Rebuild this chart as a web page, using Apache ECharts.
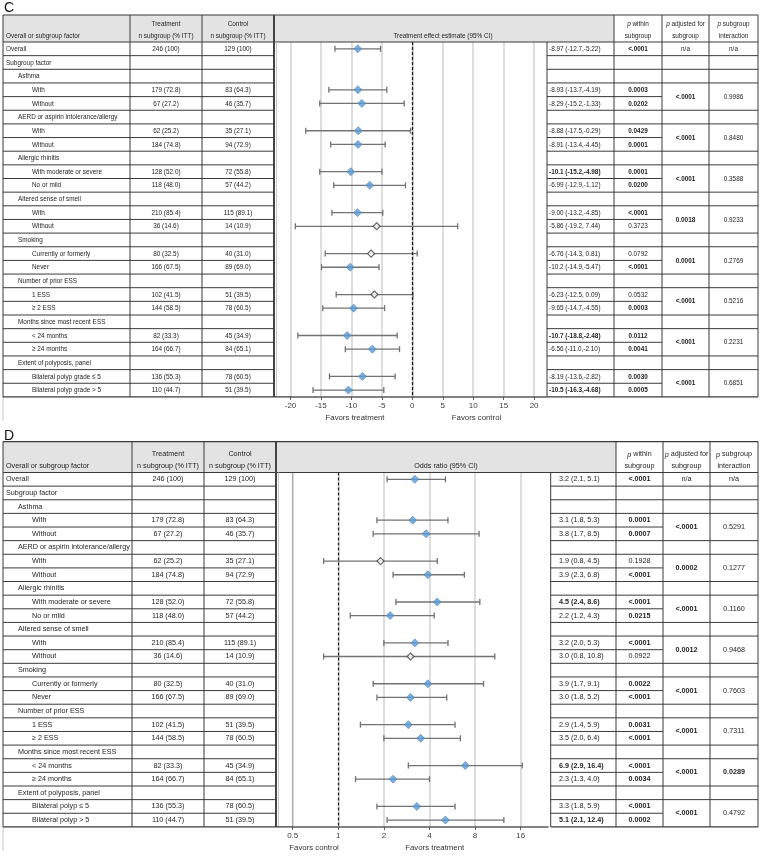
<!DOCTYPE html>
<html><head><meta charset="utf-8">
<script src="https://cdn.jsdelivr.net/npm/echarts@6/dist/echarts.min.js"></script>
<style>html,body{margin:0;padding:0;background:#fff}#c{width:760px;height:856px}</style>
</head><body><div id="c"></div>
<script>
// ---------- shared table columns ----------
const rowLabelsC = ['Overall','Subgroup factor','Asthma','With','Without','AERD or aspirin intolerance/allergy','With','Without','Allergic rhinitis','With moderate or severe','No or mild','Altered sense of smell','With','Without','Smoking','Currently or formerly','Never','Number of prior ESS','1 ESS','≥ 2 ESS','Months since most recent ESS','< 24 months','≥ 24 months','Extent of polyposis, panel','Bilateral polyp grade ≤ 5','Bilateral polyp grade > 5'];
const rowLabelsD = ['Overall','Subgroup factor','Asthma','With','Without','AERD or aspirin intolerance/allergy','With','Without','Allergic rhinitis','With moderate or severe','No or mild','Altered sense of smell','With','Without','Smoking','Currently or formerly','Never','Number of prior ESS','1 ESS','≥ 2 ESS','Months since most recent ESS','< 24 months','≥ 24 months','Extent of polyposis, panel','Bilateral polyp ≤ 5','Bilateral polyp > 5'];
const rowLevels = [0,0,1,2,2,1,2,2,1,2,2,1,2,2,1,2,2,1,2,2,1,2,2,1,2,2];
const treatN = ['246 (100)','','','179 (72.8)','67 (27.2)','','62 (25.2)','184 (74.8)','','128 (52.0)','118 (48.0)','','210 (85.4)','36 (14.6)','','80 (32.5)','166 (67.5)','','102 (41.5)','144 (58.5)','','82 (33.3)','164 (66.7)','','136 (55.3)','110 (44.7)'];
const controlN = ['129 (100)','','','83 (64.3)','46 (35.7)','','35 (27.1)','94 (72.9)','','72 (55.8)','57 (44.2)','','115 (89.1)','14 (10.9)','','40 (31.0)','89 (69.0)','','51 (39.5)','78 (60.5)','','45 (34.9)','84 (65.1)','','78 (60.5)','51 (39.5)'];
const groupStartRows = [0,3,6,9,12,15,18,21,24];
const groupSpans = [1,2,2,2,2,2,2,2,2];

// ---------- Panel C: treatment effect estimate ----------
const cEst  = [-8.97,null,null,-8.93,-8.29,null,-8.88,-8.91,null,-10.1,-6.99,null,-9.00,-5.86,null,-6.76,-10.2,null,-6.23,-9.65,null,-10.7,-6.56,null,-8.19,-10.5];
const cLow  = [-12.7,null,null,-13.7,-15.2,null,-17.5,-13.4,null,-15.2,-12.9,null,-13.2,-19.2,null,-14.3,-14.9,null,-12.5,-14.7,null,-18.8,-11.0,null,-13.6,-16.3];
const cHigh = [-5.22,null,null,-4.19,-1.33,null,-0.29,-4.45,null,-4.98,-1.12,null,-4.85,7.44,null,0.81,-5.47,null,0.09,-4.55,null,-2.48,-2.10,null,-2.82,-4.68];
const cSig  = [1,0,0,1,1,0,1,1,0,1,1,0,1,0,0,0,1,0,0,1,0,1,1,0,1,1];
const cCiText = ['-8.97 (-12.7,-5.22)','','','-8.93 (-13.7,-4.19)','-8.29 (-15.2,-1.33)','','-8.88 (-17.5,-0.29)','-8.91 (-13.4,-4.45)','','-10.1 (-15.2,-4.98)','-6.99 (-12.9,-1.12)','','-9.00 (-13.2,-4.85)','-5.86 (-19.2, 7.44)','','-6.76 (-14.3, 0.81)','-10.2 (-14.9,-5.47)','','-6.23 (-12.5, 0.09)','-9.65 (-14.7,-4.55)','','-10.7 (-18.8,-2.48)','-6.56 (-11.0,-2.10)','','-8.19 (-13.6,-2.82)','-10.5 (-16.3,-4.68)'];
const cCiBold = [0,0,0,0,0,0,0,0,0,1,0,0,0,0,0,0,0,0,0,0,0,1,0,0,0,1];
const cPWithin = ['<.0001','','','0.0003','0.0202','','0.0429','0.0001','','0.0001','0.0200','','<.0001','0.3723','','0.0792','<.0001','','0.0532','0.0003','','0.0112','0.0041','','0.0030','0.0005'];
const cPWithinBold = [1,0,0,1,1,0,1,1,0,1,1,0,1,0,0,0,1,0,0,1,0,1,1,0,1,1];
const cPAdj = ['n/a','<.0001','<.0001','<.0001','0.0018','0.0001','<.0001','<.0001','<.0001'];
const cPAdjBold = [0,1,1,1,1,1,1,1,1];
const cPInt = ['n/a','0.9986','0.8480','0.3588','0.9233','0.2769','0.5216','0.2231','0.6851'];
const cPIntBold = [0,0,0,0,0,0,0,0,0];

// ---------- Panel D: odds ratio ----------
const dEst  = [3.2,null,null,3.1,3.8,null,1.9,3.9,null,4.5,2.2,null,3.2,3.0,null,3.9,3.0,null,2.9,3.5,null,6.9,2.3,null,3.3,5.1];
const dLow  = [2.1,null,null,1.8,1.7,null,0.8,2.3,null,2.4,1.2,null,2.0,0.8,null,1.7,1.8,null,1.4,2.0,null,2.9,1.3,null,1.8,2.1];
const dHigh = [5.1,null,null,5.3,8.5,null,4.5,6.8,null,8.6,4.3,null,5.3,10.8,null,9.1,5.2,null,5.9,6.4,null,16.4,4.0,null,5.9,12.4];
const dSig  = [1,0,0,1,1,0,0,1,0,1,1,0,1,0,0,1,1,0,1,1,0,1,1,0,1,1];
const dCiText = ['3.2 (2.1, 5.1)','','','3.1 (1.8, 5.3)','3.8 (1.7, 8.5)','','1.9 (0.8, 4.5)','3.9 (2.3, 6.8)','','4.5 (2.4, 8.6)','2.2 (1.2, 4.3)','','3.2 (2.0, 5.3)','3.0 (0.8, 10.8)','','3.9 (1.7, 9.1)','3.0 (1.8, 5.2)','','2.9 (1.4, 5.9)','3.5 (2.0, 6.4)','','6.9 (2.9, 16.4)','2.3 (1.3, 4.0)','','3.3 (1.8, 5.9)','5.1 (2.1, 12.4)'];
const dCiBold = [0,0,0,0,0,0,0,0,0,1,0,0,0,0,0,0,0,0,0,0,0,1,0,0,0,1];
const dPWithin = ['<.0001','','','0.0001','0.0007','','0.1928','<.0001','','<.0001','0.0215','','<.0001','0.0922','','0.0022','<.0001','','0.0031','<.0001','','<.0001','0.0034','','<.0001','0.0002'];
const dPWithinBold = [1,0,0,1,1,0,0,1,0,1,1,0,1,0,0,1,1,0,1,1,0,1,1,0,1,1];
const dPAdj = ['n/a','<.0001','0.0002','<.0001','0.0012','<.0001','<.0001','<.0001','<.0001'];
const dPAdjBold = [0,1,1,1,1,1,1,1,1];
const dPInt = ['n/a','0.5291','0.1277','0.1160','0.9468','0.7603','0.7311','0.0289','0.4792'];
const dPIntBold = [0,0,0,0,0,0,0,1,0];

const FONT = '"Liberation Sans", Arial, sans-serif';
const BLUE = '#5b9bd5';

const PC = {letter:'C', letterY:8, headTop:15, top:42, rowH:13.65, x0:3, c1:130, c2:202, c3:274, plotL:290.5, plotR:546.3, ciL:547, pw:614, pa:662, pi:709, xr:758, ciX:549, ciAlign:'left', fs:7.8, sx:0.82, title:'Treatment effect estimate (95% CI)', titleX:443};
const PD = {letter:'D', letterY:436, headTop:441.7, top:472.5, rowH:13.63, x0:3, c1:132, c2:204, c3:276, plotL:292.7, plotR:548, ciL:550.7, pw:616, pa:663, pi:710, xr:758, ciX:559, ciAlign:'left', fs:7.2, sx:1, title:'Odds ratio (95% CI)', titleX:446};

function panelGraphics(P, d) {
  const els = [];
  const N = d.labels.length;
  const ry = i => P.top + i * P.rowH;
  const bottom = ry(N);
  const LC = '#3a3a3a';
  function ln(x1, y1, x2, y2, w, c) {
    els.push({type:'line', silent:true, z:10, shape:{x1:x1, y1:y1, x2:x2, y2:y2}, style:{stroke:c || LC, lineWidth:w || 1}});
  }
  function tx(x, y, t, o) {
    o = o || {};
    if (!t) return;
    const st = {text:t, x:0, y:0, fill:'#1e1e1e', fontSize:o.fs || P.fs, fontFamily:FONT,
      fontWeight:o.bold ? 'bold' : 'normal', align:o.align || 'left', verticalAlign:'middle'};
    if (o.rich) st.rich = o.rich;
    els.push({type:'text', silent:true, z:11, x:x, y:y, scaleX:(o.nosx ? 1 : P.sx), style:st});
  }
  const richP = {i:{fontStyle:'italic', fontSize:P.fs, fontFamily:FONT, fill:'#1e1e1e'}, n:{fontSize:P.fs, fontFamily:FONT, fill:'#1e1e1e'}};
  // panel letter
  els.push({type:'text', silent:true, z:11, x:4, y:P.letterY, style:{text:P.letter, fontSize:14, fontFamily:FONT, fill:'#111', verticalAlign:'middle'}});
  // header background
  els.push({type:'rect', silent:true, z:5, shape:{x:P.x0, y:P.headTop, width:P.pw - P.x0, height:P.top - P.headTop}, style:{fill:'#e3e3e3'}});
  // header texts
  const h1 = P.top - 18, h2 = P.top - 6;
  tx(P.x0 + 3, h2, 'Overall or subgroup factor');
  tx((P.c1 + P.c2) / 2, h1, 'Treatment', {align:'center'});
  tx((P.c1 + P.c2) / 2, h2, 'n subgroup (% ITT)', {align:'center'});
  tx((P.c2 + P.c3) / 2, h1, 'Control', {align:'center'});
  tx((P.c2 + P.c3) / 2, h2, 'n subgroup (% ITT)', {align:'center'});
  tx(P.titleX, h2, P.title, {align:'center'});
  tx((P.pw + P.pa) / 2, h1, '{i|p}{n| within}', {align:'center', rich:richP});
  tx((P.pw + P.pa) / 2, h2, 'subgroup', {align:'center'});
  tx((P.pa + P.pi) / 2, h1, '{i|p}{n| adjusted for}', {align:'center', rich:richP});
  tx((P.pa + P.pi) / 2, h2, 'subgroup', {align:'center'});
  tx((P.pi + P.xr) / 2, h1, '{i|p}{n| subgroup}', {align:'center', rich:richP});
  tx((P.pi + P.xr) / 2, h2, 'interaction', {align:'center'});
  // header lines
  ln(P.x0, P.headTop, P.xr, P.headTop, 1.2);
  ln(P.x0, P.top, P.xr, P.top, 1.2);
  // vertical lines
  [P.x0, P.c1, P.c2, P.pw, P.pa, P.pi, P.xr].forEach(x => ln(x, P.headTop, x, bottom, 1));
  ln(P.c3, P.headTop, P.c3, bottom, 2, '#444');
  ln(P.c3 + 2.5, P.top, P.c3 + 2.5, bottom, 1, '#c8c8c8');
  ln(P.ciL, P.top, P.ciL, bottom, 1);
  // extra light border below table
  ln(P.x0, bottom, P.x0, bottom + 24, 1, '#c8c8c8');
  // row lines
  const inner = {};
  groupStartRows.forEach((g, k) => { if (groupSpans[k] === 2) inner[g + 1] = true; });
  for (let i = 1; i <= N; i++) {
    const y = ry(i);
    const w = i === N ? 1.4 : 1;
    ln(P.x0, y, i === N ? P.plotL : P.c3, y, w);
    ln(P.ciL, y, P.pa, y, w);
    if (!inner[i]) ln(P.pa, y, P.xr, y, w);
  }
  // row texts
  const indent = [3, 15, 29];
  for (let i = 0; i < N; i++) {
    const y = ry(i) + P.rowH / 2;
    tx(P.x0 + indent[rowLevels[i]], y, d.labels[i]);
    tx((P.c1 + P.c2) / 2, y, treatN[i], {align:'center'});
    tx((P.c2 + P.c3) / 2, y, controlN[i], {align:'center'});
    tx(P.ciX, y, d.ci[i], {bold:!!d.ciBold[i], align:P.ciAlign});
    tx((P.pw + P.pa) / 2, y, d.pw[i], {bold:!!d.pwBold[i], align:'center'});
  }
  groupStartRows.forEach((g, k) => {
    const y = ry(g) + groupSpans[k] * P.rowH / 2;
    tx((P.pa + P.pi) / 2, y, d.pa[k], {bold:!!d.paBold[k], align:'center'});
    tx((P.pi + P.xr) / 2, y, d.pi[k], {bold:!!d.piBold[k], align:'center'});
  });
  return els;
}

function favLabel(x, y, t) {
  return {type:'text', silent:true, z:11, x:x, y:y, style:{text:t, fontSize:7.8, fontFamily:FONT, fill:'#333', align:'center', verticalAlign:'middle'}};
}

const graphics = [].concat(
  panelGraphics(PC, {labels:rowLabelsC, ci:cCiText, ciBold:cCiBold, pw:cPWithin, pwBold:cPWithinBold, pa:cPAdj, paBold:cPAdjBold, pi:cPInt, piBold:cPIntBold}),
  panelGraphics(PD, {labels:rowLabelsD, ci:dCiText, ciBold:dCiBold, pw:dPWithin, pwBold:dPWithinBold, pa:dPAdj, paBold:dPAdjBold, pi:dPInt, piBold:dPIntBold}),
  [favLabel(355, 418, 'Favors treatment'), favLabel(476.5, 418, 'Favors control'),
   favLabel(314, 848, 'Favors control'), favLabel(434.7, 848, 'Favors treatment')]
);

function rowsWith(est) { const r = []; est.forEach((v, i) => { if (v !== null) r.push(i); }); return r; }

function errorSeries(k, est, lo, hi) {
  return {
    type:'custom', xAxisIndex:k, yAxisIndex:k, z:3, silent:true,
    data: rowsWith(est).map(i => [lo[i], hi[i], i]),
    encode:{x:[0, 1], y:2},
    renderItem: function (params, api) {
      const yv = api.value(2);
      const p1 = api.coord([api.value(0), yv]);
      const p2 = api.coord([api.value(1), yv]);
      const h = 3;
      const st = {stroke:'#727272', lineWidth:1.3};
      return {type:'group', children:[
        {type:'line', shape:{x1:p1[0], y1:p1[1], x2:p2[0], y2:p2[1]}, style:st},
        {type:'line', shape:{x1:p1[0], y1:p1[1] - h, x2:p1[0], y2:p1[1] + h}, style:st},
        {type:'line', shape:{x1:p2[0], y1:p2[1] - h, x2:p2[0], y2:p2[1] + h}, style:st}
      ]};
    }
  };
}
function pointSeries(k, est, sig, filled, refX) {
  const s = {
    type:'scatter', xAxisIndex:k, yAxisIndex:k, z:5, silent:true, symbol:'diamond', symbolSize:filled ? 8 : 7,
    data: rowsWith(est).filter(i => !!sig[i] === filled).map(i => [est[i], i]),
    itemStyle: filled ? {color:BLUE, borderColor:'#4a86c0', borderWidth:0.8} : {color:'#fff', borderColor:'#404040', borderWidth:1.2}
  };
  if (refX !== undefined) {
    s.markLine = {silent:true, symbol:['none', 'none'], label:{show:false}, animation:false,
      lineStyle:{type:[3, 2], color:'#1a1a1a', width:1.2}, data:[{xAxis:refX}]};
  }
  return s;
}

const axisLabelStyle = {fontSize:8, color:'#404040', fontFamily:FONT, margin:5, showMaxLabel:false};
const option = {
  animation:false,
  grid:[
    {left:PC.plotL, top:PC.top, width:PC.plotR - PC.plotL, height:26 * PC.rowH},
    {left:PD.plotL, top:PD.top, width:PD.plotR - PD.plotL, height:26 * PD.rowH}
  ],
  xAxis:[
    {gridIndex:0, type:'value', min:-20, max:22, interval:5,
      axisLine:{show:true, lineStyle:{color:'#5a5a5a', width:1.6}},
      axisTick:{show:true, length:3, lineStyle:{color:'#5a5a5a'}},
      axisLabel:axisLabelStyle,
      splitLine:{show:true, showMaxLine:false, lineStyle:{color:'#d2d2d2', width:1.5}}},
    {gridIndex:1, type:'log', logBase:2, min:0.5, max:24.25,
      axisLine:{show:true, lineStyle:{color:'#5a5a5a', width:1.6}},
      axisTick:{show:true, length:3, lineStyle:{color:'#5a5a5a'}},
      axisLabel:Object.assign({}, axisLabelStyle, {formatter:v => String(+(+v).toPrecision(3))}),
      splitLine:{show:true, showMaxLine:false, lineStyle:{color:'#d2d2d2', width:1.5}}}
  ],
  yAxis:[
    {gridIndex:0, type:'category', inverse:true, data:rowLabelsC,
      axisLine:{show:true, lineStyle:{color:'#b0b0b0', width:1.2}}, axisTick:{show:false}, axisLabel:{show:false}, splitLine:{show:false}},
    {gridIndex:1, type:'category', inverse:true, data:rowLabelsD,
      axisLine:{show:true, lineStyle:{color:'#b0b0b0', width:1.2}}, axisTick:{show:false}, axisLabel:{show:false}, splitLine:{show:false}}
  ],
  graphic:graphics,
  series:[
    errorSeries(0, cEst, cLow, cHigh),
    pointSeries(0, cEst, cSig, true, 0),
    pointSeries(0, cEst, cSig, false),
    errorSeries(1, dEst, dLow, dHigh),
    pointSeries(1, dEst, dSig, true, 1),
    pointSeries(1, dEst, dSig, false)
  ]
};
const chart = echarts.init(document.getElementById('c'), null, {renderer:'canvas'});
chart.setOption(option);
</script>
</body></html>
